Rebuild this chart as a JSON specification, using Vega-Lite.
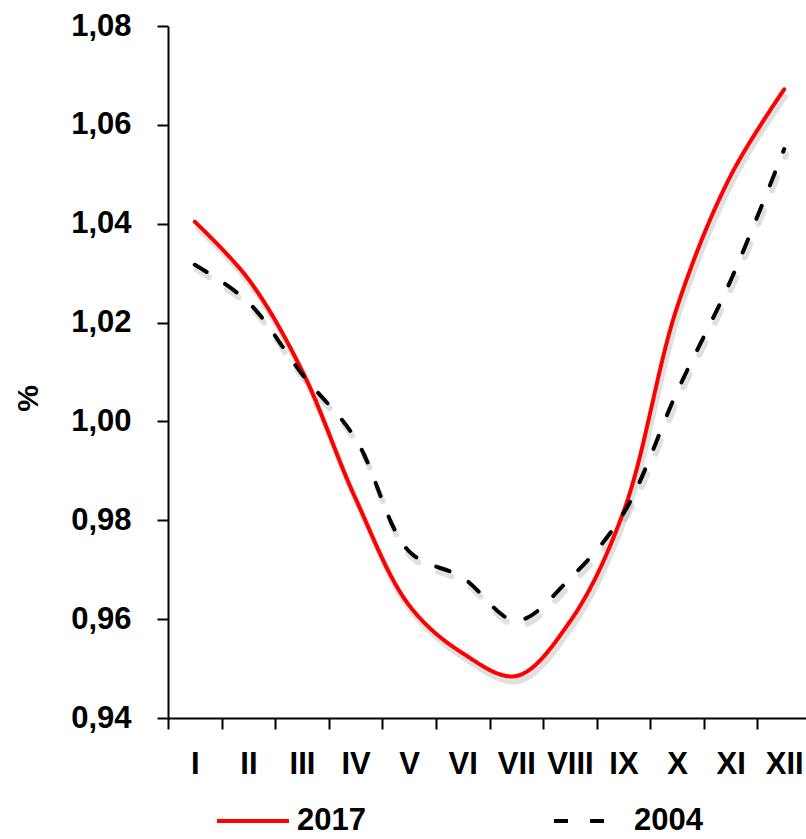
{
  "$schema": "https://vega.github.io/schema/vega-lite/v6.json",
  "autosize": {"type": "none"},
  "padding": {"left": 168, "top": 26, "right": 0, "bottom": 121},
  "width": 643,
  "height": 692,
  "background": "white",
  "config": {
    "view": {"stroke": null},
    "font": "Liberation Sans",
    "axis": {"grid": false, "domainColor": "black", "tickColor": "black", "domainWidth": 2, "tickWidth": 2, "labelColor": "black", "labelFont": "Liberation Sans", "labelFontWeight": "bold", "labelFontSize": 31, "titleColor": "black"},
    "legend": {"labelFont": "Liberation Sans", "labelFontWeight": "bold", "labelFontSize": 31, "labelColor": "black"}
  },
  "data": {
    "values": [
      {"month": "I", "series": "2017", "value": 1.0404},
      {"month": "II", "series": "2017", "value": 1.0288},
      {"month": "III", "series": "2017", "value": 1.0103},
      {"month": "IV", "series": "2017", "value": 0.9844},
      {"month": "V", "series": "2017", "value": 0.9628},
      {"month": "VI", "series": "2017", "value": 0.9531},
      {"month": "VII", "series": "2017", "value": 0.9485},
      {"month": "VIII", "series": "2017", "value": 0.9595},
      {"month": "IX", "series": "2017", "value": 0.9817},
      {"month": "X", "series": "2017", "value": 1.0231},
      {"month": "XI", "series": "2017", "value": 1.0497},
      {"month": "XII", "series": "2017", "value": 1.0672},
      {"month": "I", "series": "2004", "value": 1.0317},
      {"month": "II", "series": "2004", "value": 1.0241},
      {"month": "III", "series": "2004", "value": 1.0096},
      {"month": "IV", "series": "2004", "value": 0.9965},
      {"month": "V", "series": "2004", "value": 0.9737},
      {"month": "VI", "series": "2004", "value": 0.9684},
      {"month": "VII", "series": "2004", "value": 0.9597},
      {"month": "VIII", "series": "2004", "value": 0.9682},
      {"month": "IX", "series": "2004", "value": 0.9814},
      {"month": "X", "series": "2004", "value": 1.006},
      {"month": "XI", "series": "2004", "value": 1.0285},
      {"month": "XII", "series": "2004", "value": 1.0551}
    ]
  },
  "encoding": {
    "x": {
      "field": "month", "type": "ordinal", "bandPosition": 0.5,
      "sort": ["I","II","III","IV","V","VI","VII","VIII","IX","X","XI","XII"],
      "scale": {"type": "band", "paddingInner": 0, "paddingOuter": 0},
      "axis": {"title": null, "tickBand": "extent", "tickSize": 11, "labelPadding": 20, "labelAngle": 0, "labelBaseline": "top"}
    },
    "y": {
      "field": "value", "type": "quantitative",
      "scale": {"domain": [0.94, 1.08], "nice": false, "zero": false},
      "axis": {"values": [0.94, 0.96, 0.98, 1.0, 1.02, 1.04, 1.06, 1.08], "labelExpr": "replace(format(datum.value, '.2f'), '.', ',')", "tickSize": 11, "labelPadding": 26, "title": "%", "titleFontSize": 30, "titleFontWeight": "bold", "titleAngle": 270, "titleX": -140, "titleY": 372, "titleAlign": "center", "titleBaseline": "middle"}
    }
  },
  "layer": [
    {
      "transform": [{"filter": "datum.series == '2017'"}],
      "mark": {"type": "line", "interpolate": "catmull-rom", "stroke": "#999999", "strokeWidth": 6, "opacity": 0.3, "yOffset": 5, "xOffset": 2},
      "encoding": {}
    },
    {
      "transform": [{"filter": "datum.series == '2004'"}],
      "mark": {"type": "line", "interpolate": "catmull-rom", "stroke": "#999999", "strokeWidth": 6, "opacity": 0.3, "yOffset": 5, "xOffset": 2, "strokeDash": [14, 22], "strokeCap": "round"},
      "encoding": {}
    },
    {
      "mark": {"type": "line", "interpolate": "catmull-rom", "strokeWidth": 4, "strokeCap": "round"},
      "encoding": {
        "color": {"field": "series", "type": "nominal", "scale": {"domain": ["2017", "2004"], "range": ["#ff0000", "#000000"]},
          "legend": {"title": null, "orient": "none", "direction": "horizontal", "legendX": 47, "legendY": 757, "symbolType": "stroke", "symbolSize": 5184, "symbolStrokeWidth": 4, "columnPadding": 180, "labelOffset": 6, "padding": 0}},
        "strokeDash": {"field": "series", "type": "nominal", "scale": {"domain": ["2017", "2004"], "range": [[1, 0], [14, 22]]},
          "legend": {"title": null, "orient": "none", "direction": "horizontal", "legendX": 47, "legendY": 757, "symbolType": "stroke", "symbolSize": 5184, "symbolStrokeWidth": 4, "columnPadding": 180, "labelOffset": 6, "padding": 0}}
      }
    }
  ]
}
